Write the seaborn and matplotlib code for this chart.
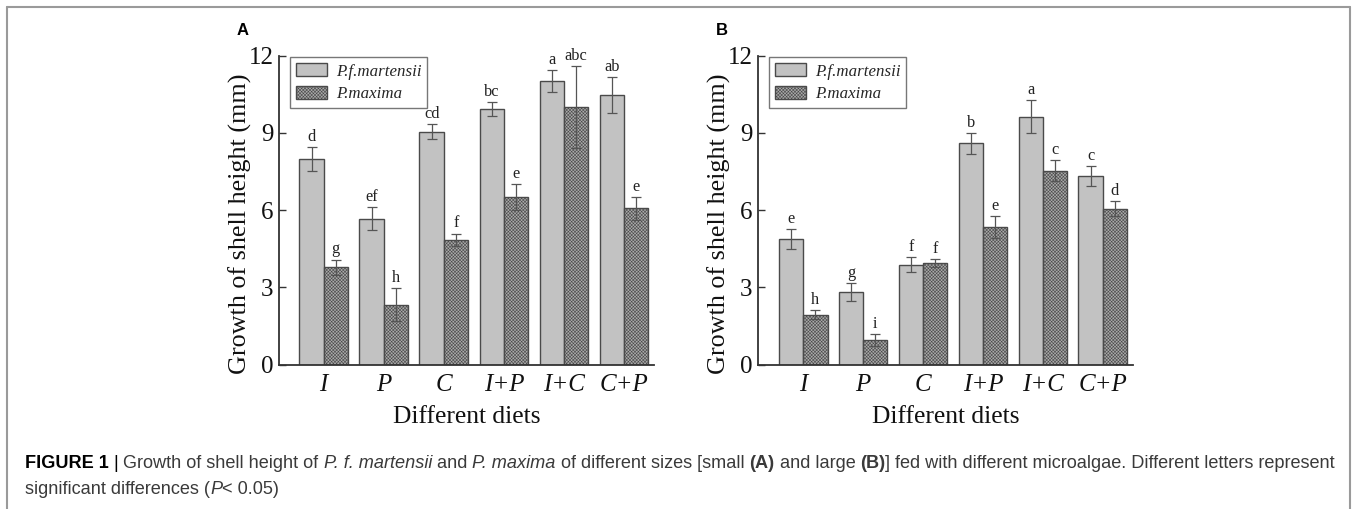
import matplotlib
matplotlib.use("Agg")
import matplotlib.pyplot as plt
from matplotlib.patches import Patch
from matplotlib.lines import Line2D
import seaborn as sns
import pandas as pd
import numpy as np

# ---------------- data ----------------
diets = ["I", "P", "C", "I+P", "I+C", "C+P"]
species = ["P.f.martensii", "P.maxima"]

a_mart = [7.98, 5.67, 9.05, 9.92, 11.02, 10.46]
a_mart_err = [0.45, 0.45, 0.30, 0.26, 0.43, 0.70]
a_max = [3.78, 2.33, 4.85, 6.52, 10.00, 6.07]
a_max_err = [0.30, 0.64, 0.24, 0.50, 1.60, 0.45]
a_mart_let = ["d", "ef", "cd", "bc", "a", "ab"]
a_max_let = ["g", "h", "f", "e", "abc", "e"]

b_mart = [4.87, 2.82, 3.88, 8.59, 9.63, 7.33]
b_mart_err = [0.38, 0.35, 0.30, 0.40, 0.63, 0.38]
b_max = [1.94, 0.96, 3.95, 5.34, 7.53, 6.06]
b_max_err = [0.18, 0.22, 0.15, 0.42, 0.40, 0.30]
b_mart_let = ["e", "g", "f", "b", "a", "c"]
b_max_let = ["h", "i", "f", "e", "c", "d"]

yticks = [0, 3, 6, 9, 12]
xlabel = "Different diets"
ylabel = "Growth of shell height (mm)"

# ---------------- style ----------------
sns.set_theme(style="white")
plt.rcParams["font.family"] = ["Liberation Serif", "DejaVu Serif"]
plt.rcParams["hatch.linewidth"] = 0.4

SERIF = "Liberation Serif"
C_MART = "#c2c2c2"
C_MAX = "#a9a9a9"
EDGE = "#4a4a4a"
HATCH = "xxxxxxxxxx"

fig = plt.figure(figsize=(13.56, 5.09), dpi=100)
fig.patch.set_facecolor("white")

W, H = 1356.0, 509.0
ax_a = fig.add_axes([279 / W, 1 - 364.7 / H, 375 / W, 309.2 / H])
ax_b = fig.add_axes([758.3 / W, 1 - 364.7 / H, 374.7 / W, 309.2 / H])


def panel(ax, mart, mart_err, mx, mx_err, mart_let, mx_let, label, xl):
    df = pd.DataFrame({
        "diet": diets * 2,
        "species": [species[0]] * len(diets) + [species[1]] * len(diets),
        "value": list(mart) + list(mx),
    })
    sns.barplot(data=df, x="diet", y="value", hue="species", order=diets,
                hue_order=species, palette=[C_MART, C_MAX], width=0.81,
                errorbar=None, legend=False, ax=ax, saturation=1,
                edgecolor=EDGE, linewidth=1.0)
    conts = ax.containers
    for bar in conts[1]:
        bar.set_hatch(HATCH)
    for cont, vals, err, lets in [(conts[0], mart, mart_err, mart_let),
                                  (conts[1], mx, mx_err, mx_let)]:
        xs = [b.get_x() + b.get_width() / 2 for b in cont]
        ax.errorbar(xs, vals, yerr=err, fmt="none", ecolor="#555555",
                    elinewidth=0.9, capsize=3.5, capthick=0.9)
        for x, v, e, t in zip(xs, vals, err, lets):
            ax.annotate(t, (x, v + e), xytext=(0, 1.5), textcoords="offset points",
                        ha="center", va="bottom", fontsize=11.8, family=SERIF,
                        color="#222222")
    ax.set_xlim(*xl)
    ax.set_ylim(0, 12)
    ax.set_yticks(yticks)
    ax.set_yticklabels([str(t) for t in yticks], fontsize=18, family=SERIF)
    ax.set_xticks(range(len(diets)))
    ax.set_xticklabels(diets, fontsize=18, family=SERIF, style="italic")
    ax.tick_params(axis="y", direction="in", length=5, width=1.0, color="#333333",
                   left=True, pad=4, labelcolor="#111111")
    ax.tick_params(axis="x", length=0, pad=7, labelcolor="#111111")
    ax.set_xlabel(xlabel, fontsize=18.4, family=SERIF, labelpad=7, color="#111111")
    ax.set_ylabel(ylabel, fontsize=18.8, family=SERIF, color="#111111")
    ax.yaxis.set_label_coords(-0.073, 0.455)
    for s in ["top", "right"]:
        ax.spines[s].set_visible(False)
    for s in ["left", "bottom"]:
        ax.spines[s].set_color("#333333")
        ax.spines[s].set_linewidth(1.3)
    ax.set_facecolor("white")
    ax.grid(False)
    handles = [Patch(facecolor=C_MART, edgecolor=EDGE, linewidth=1.0),
               Patch(facecolor=C_MAX, edgecolor=EDGE, linewidth=1.0, hatch=HATCH)]
    leg = ax.legend(handles, species, loc="upper left", bbox_to_anchor=(0.029, 0.995),
                    borderaxespad=0, frameon=True, fancybox=False,
                    prop={"family": SERIF, "style": "italic", "size": 12.2},
                    handlelength=1.85, handleheight=0.85, handletextpad=0.5,
                    borderpad=0.35, labelspacing=0.35)
    leg.get_frame().set_edgecolor("#555555")
    leg.get_frame().set_linewidth(1.0)
    ax.text(-0.112, 1.055, label, transform=ax.transAxes, fontsize=12,
            fontweight="bold", family="Liberation Sans", ha="left", va="bottom",
            color="black")


panel(ax_a, a_mart, a_mart_err, a_max, a_max_err, a_mart_let, a_max_let, "A",
      (-0.744, 5.5))
panel(ax_b, b_mart, b_mart_err, b_max, b_max_err, b_mart_let, b_max_let, "B",
      (-0.751, 5.506))

# ---------------- frame ----------------
fc = "#9a9a9a"
fig.add_artist(Line2D([7 / W, 7 / W], [0, 1 - 6.5 / H], transform=fig.transFigure,
                      color=fc, lw=1.5))
fig.add_artist(Line2D([1350 / W, 1350 / W], [0, 1 - 6.5 / H], transform=fig.transFigure,
                      color=fc, lw=1.5))
fig.add_artist(Line2D([7 / W, 1350 / W], [1 - 6.5 / H, 1 - 6.5 / H],
                      transform=fig.transFigure, color=fc, lw=1.5))

# ---------------- caption ----------------
CAP = ["Liberation Sans Narrow", "Liberation Sans"]
renderer = fig.canvas.get_renderer()


def rich_line(x_px, y_px, parts, size):
    x = x_px / W
    for txt, weight, style, color in parts:
        t = fig.text(x, 1 - y_px / H, txt, fontsize=size, family=CAP,
                     fontweight=weight, fontstyle=style, color=color,
                     ha="left", va="center")
        bb = t.get_window_extent(renderer)
        x += bb.width / W


g = "#3a3a3a"
line1 = [
    ("FIGURE 1", "bold", "normal", "black"),
    (" | ", "normal", "normal", "black"),
    ("Growth of shell height of ", "normal", "normal", g),
    ("P. f. martensii", "normal", "italic", g),
    (" and ", "normal", "normal", g),
    ("P. maxima", "normal", "italic", g),
    (" of different sizes [small ", "normal", "normal", g),
    ("(A)", "bold", "normal", g),
    (" and large ", "normal", "normal", g),
    ("(B)", "bold", "normal", g),
    ("] fed with different microalgae. Different letters represent", "normal", "normal", g),
]
line2 = [
    ("significant differences (", "normal", "normal", g),
    ("P", "normal", "italic", g),
    ("< 0.05)", "normal", "normal", g),
]
rich_line(25, 464, line1, 13.05)
rich_line(25, 490, line2, 13.05)

fig.savefig("out.png", dpi=100, facecolor="white")
